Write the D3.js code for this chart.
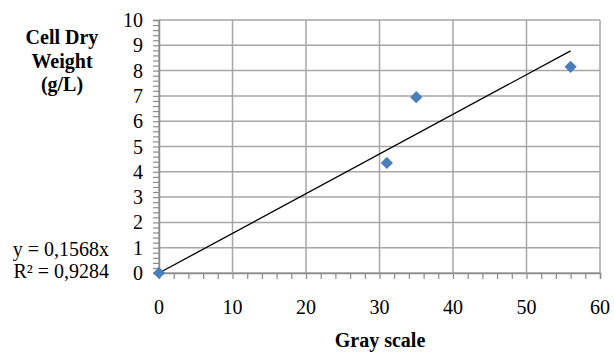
<!DOCTYPE html>
<html>
<head>
<meta charset="utf-8">
<script src="https://cdn.jsdelivr.net/npm/d3@7"></script>
<style>
  body { margin: 0; background: #fff; }
  text { font-family: "Liberation Serif", "Times New Roman", serif; fill: #000; }
</style>
</head>
<body>
<div id="chart"></div>
<script>
const grayScale = [0, 31, 35, 56];
const dryWeight = [0, 4.35, 6.95, 8.15];
const slope = 0.1568;
const xTicks = [0, 10, 20, 30, 40, 50, 60];
const yTicks = [0, 1, 2, 3, 4, 5, 6, 7, 8, 9, 10];
const yTitleLines = ['Cell Dry', 'Weight', '(g/L)'];
const equationLines = ['y = 0,1568x', 'R² = 0,9284'];

const width = 614;
const height = 352;
const margin = { left: 159, right: 14, top: 20, bottom: 79 };
const chartWidth = width - margin.left - margin.right;
const chartHeight = height - margin.top - margin.bottom;

// Scales
var scaleX = d3.scaleLinear().domain([0, 60]).range([0, chartWidth]);
var scaleY = d3.scaleLinear().domain([0, 10]).range([chartHeight, 0]);

var svg = d3.select('#chart')
  .append('svg')
  .attr('width', width)
  .attr('height', height);

var group = svg.append('g')
  .attr('transform', 'translate(' + margin.left + ',' + margin.top + ')');

// Gridlines
group.selectAll('.hgrid')
  .data(yTicks)
  .enter()
  .append('line')
  .attr('x1', 0)
  .attr('x2', chartWidth)
  .attr('y1', d => scaleY(d))
  .attr('y2', d => scaleY(d))
  .attr('stroke', '#a6a6a6')
  .attr('stroke-width', 1.5);

group.selectAll('.vgrid')
  .data(xTicks)
  .enter()
  .append('line')
  .attr('x1', d => scaleX(d))
  .attr('x2', d => scaleX(d))
  .attr('y1', 0)
  .attr('y2', chartHeight)
  .attr('stroke', '#a6a6a6')
  .attr('stroke-width', 1.5);

// Axes with minor ticks
var axisX = d3.axisBottom(scaleX)
  .tickValues(d3.range(0, 60.01, 2))
  .tickSize(6)
  .tickFormat('');

var axisY = d3.axisLeft(scaleY)
  .tickValues(d3.range(0, 10.01, 0.2))
  .tickSize(6)
  .tickFormat('');

var gx = group.append('g')
  .attr('transform', 'translate(0,' + chartHeight + ')')
  .call(axisX);

var gy = group.append('g')
  .call(axisY);

[gx, gy].forEach(function (g) {
  g.select('.domain').attr('stroke', '#8c8c8c').attr('stroke-width', 1.5);
  g.selectAll('.tick line').attr('stroke', '#8c8c8c').attr('stroke-width', 1.2);
});

// Tick labels
group.selectAll('.xlabel')
  .data(xTicks)
  .enter()
  .append('text')
  .attr('x', d => scaleX(d))
  .attr('y', chartHeight + 41)
  .attr('text-anchor', 'middle')
  .attr('font-size', '20px')
  .text(d => d);

group.selectAll('.ylabel')
  .data(yTicks)
  .enter()
  .append('text')
  .attr('x', -16)
  .attr('y', d => scaleY(d) + 7)
  .attr('text-anchor', 'end')
  .attr('font-size', '20px')
  .text(d => d);

// Trendline
group.append('line')
  .attr('x1', scaleX(0))
  .attr('y1', scaleY(0))
  .attr('x2', scaleX(d3.max(grayScale)))
  .attr('y2', scaleY(slope * d3.max(grayScale)))
  .attr('stroke', '#000')
  .attr('stroke-width', 1.3);

// Markers
group.selectAll('.pt')
  .data(grayScale)
  .enter()
  .append('path')
  .attr('d', d3.symbol().type(d3.symbolDiamond2).size(95))
  .attr('transform', (d, i) => 'translate(' + scaleX(d) + ',' + scaleY(dryWeight[i]) + ')')
  .attr('fill', '#4a7ebb');

// Titles
svg.append('text')
  .attr('x', 380)
  .attr('y', 347)
  .attr('text-anchor', 'middle')
  .attr('font-size', '20px')
  .attr('font-weight', 'bold')
  .text('Gray scale');

svg.selectAll('.ytitle')
  .data(yTitleLines)
  .enter()
  .append('text')
  .attr('x', 62)
  .attr('y', (d, i) => 44 + i * 23.5)
  .attr('text-anchor', 'middle')
  .attr('font-size', '20px')
  .attr('font-weight', 'bold')
  .text(d => d);

svg.selectAll('.eq')
  .data(equationLines)
  .enter()
  .append('text')
  .attr('x', 109)
  .attr('y', (d, i) => 256 + i * 22)
  .attr('text-anchor', 'end')
  .attr('font-size', '20px')
  .text(d => d);
</script>
</body>
</html>
